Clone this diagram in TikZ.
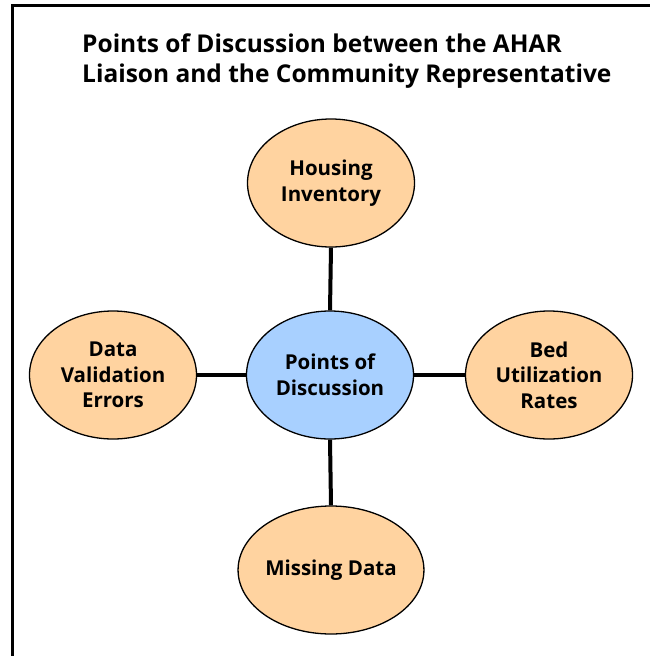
\documentclass[tikz,border=0pt]{standalone}
\usepackage{fontspec}
\setmainfont{Open Sans}
\usetikzlibrary{shapes.geometric}
\definecolor{peach}{HTML}{FFD3A0}
\definecolor{skyb}{HTML}{A8D0FF}
\tikzset{
  bubble/.style={ellipse, draw=black, line width=1.3pt, minimum width=167pt, minimum height=128pt, inner sep=0pt, align=center, font=\fontsize{20.5}{25.5}\selectfont\bfseries},
  outer/.style={bubble, fill=peach},
  inner/.style={bubble, fill=skyb},
  link/.style={line width=4pt, black},
  frame/.style={line width=3pt, black}
}
\begin{document}
\begin{tikzpicture}[x=1pt,y=-1pt]
\useasboundingbox (0,0) rectangle (649,656);
\draw[frame] (12,660) -- (12,5) -- (652,5);
\node[anchor=base west, align=left, inner sep=0pt, font=\fontsize{24.5}{30}\selectfont\bfseries] (title) at (82,82) {Points of Discussion between the AHAR\\Liaison and the Community Representative};
\node[inner] (c) at (330,375) {Points of\\Discussion};
\node[outer] (h) at (331,183) {Housing\\Inventory};
\node[outer] (l) at (113,375) {Data\\Validation\\Errors};
\node[outer] (r) at (549,375) {Bed\\Utilization\\Rates};
\node[outer] (m) at (331,570) {Missing Data};
\draw[link] (h.south) -- (c.north);
\draw[link] (c.south) -- (m.north);
\draw[link] (l) -- (c);
\draw[link] (c) -- (r);
\end{tikzpicture}
\end{document}
